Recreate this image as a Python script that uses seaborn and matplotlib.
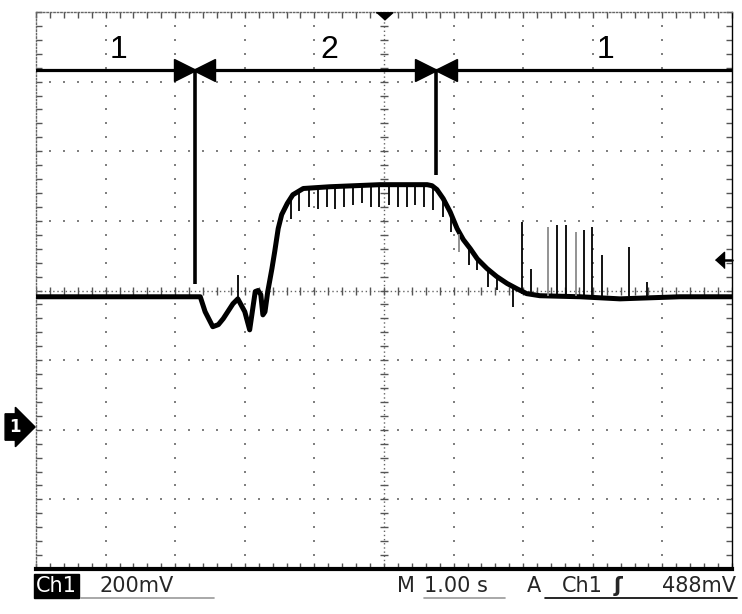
import numpy as np
import pandas as pd
import matplotlib
matplotlib.use("Agg")
import matplotlib.pyplot as plt
import matplotlib.transforms as mtrans
from matplotlib.lines import Line2D
import seaborn as sns

# Scope capture
# time in s (1.00 s/div, trigger at 0), level in mV above the Ch1 ground (200 mV/div)
trace_t = [-5.00, -2.70, -2.64, -2.57, -2.46, -2.38, -2.31, -2.17, -2.10, -2.00, -1.93,
           -1.85, -1.81, -1.77, -1.74, -1.71, -1.67, -1.61, -1.57, -1.52, -1.47,
           -1.39, -1.31, -1.16, -0.78, -0.06, 0.62, 0.69, 0.76, 0.85, 0.95,
           1.05, 1.14, 1.24, 1.34, 1.48, 1.62, 1.77, 1.91, 2.05, 2.24,
           2.82, 3.39, 4.25, 5.00]
trace_mv = [382, 382, 382, 339, 296, 302, 319, 362, 376, 339, 287,
            397, 400, 388, 330, 339, 397, 463, 512, 578, 618,
            650, 675, 693, 698, 704, 704, 701, 690, 664, 626,
            578, 546, 520, 491, 463, 440, 420, 405, 391, 385,
            382, 376, 382, 382]

# glitches on top of the trace
spike_t = [-1.34, -1.22, -1.08, -0.95, -0.82, -0.70, -0.57, -0.45, -0.32, -0.19,
           -0.07, 0.07, 0.20, 0.33, 0.45, 0.57, 0.70, 0.85, 0.96, 1.08,
           1.22, 1.34, 1.49, 1.62, 1.85,
           -2.10, 1.98, 2.11, 2.36, 2.49, 2.61, 2.76, 2.87, 2.99, 3.13, 3.52, 3.78]
spike_base = [672, 687, 698, 698, 698, 698, 698, 698, 698, 698,
              698, 698, 698, 698, 698, 698, 695, 664, 621, 563,
              520, 491, 460, 440, 411,
              376, 390, 385, 385, 385, 385, 385, 385, 385, 385, 385, 385]
spike_tip = [604, 627, 641, 635, 641, 635, 641, 647, 650, 641,
             641, 647, 641, 641, 647, 641, 632, 612, 569, 512,
             474, 460, 411, 402, 354,
             445, 598, 463, 581, 589, 589, 569, 575, 581, 503, 526, 425]
spike_faint = [2.36, 2.76, 1.08]

# cursors
cursor_t = [-2.72, 0.75]
cursor_bottom = [420, 733]
cursor_level = 1032
region_t = [-3.82, -0.78, 3.18]
region_names = ["1", "2", "1"]
region_level = 1092
trig_level = 488

W, H = 742, 614
sns.set_style("white")
plt.rcParams['font.family'] = ['DejaVu Sans']

fig = plt.figure(figsize=(W / 100, H / 100), dpi=100)
ax = fig.add_axes([36 / W, 1 - 569 / H, 696 / W, 557 / H])
ax.set_xlim(-5, 5)
ax.set_ylim(-400, 1200)

# graticule: dotted division lines, dots every 1/5 division
minor_t = np.arange(-5, 5.001, 0.2)
minor_v = np.arange(-400, 1200.1, 40)
for k in range(-4, 5):
    if k != 0:
        ax.scatter(np.full(len(minor_v), k), minor_v, s=3, marker='s',
                   color='#808080', lw=0, zorder=1)
for v in range(-200, 1200, 200):
    if v != 400:
        ax.scatter(minor_t, np.full(len(minor_t), v), s=3, marker='s',
                   color='#808080', lw=0, zorder=1)
# center cross with tick marks
ax.plot([0, 0], [-400, 1200], ls=(0, (1, 2)), color='#666666', lw=1, zorder=1)
ax.plot([-5, 5], [400, 400], ls=(0, (1, 2)), color='#666666', lw=1, zorder=1)
ax.scatter(np.zeros(len(minor_v)), minor_v, marker='_', s=30, color='#555555', lw=1, zorder=1)
ax.scatter(minor_t, np.full(len(minor_t), 400), marker='|', s=30, color='#555555', lw=1, zorder=1)

# frame
ax.set_xticks(minor_t)
ax.set_yticks(minor_v)
ax.tick_params(direction='in', length=4, width=1, color='#555555',
               top=True, right=True, bottom=True, left=True,
               labelbottom=False, labelleft=False)
for side in ['top', 'left']:
    ax.spines[side].set_linestyle((0, (1, 1.5)))
    ax.spines[side].set_color('#666666')
    ax.spines[side].set_linewidth(1)
ax.spines['right'].set_color('black')
ax.spines['right'].set_linewidth(1)
ax.spines['bottom'].set_color('black')
ax.spines['bottom'].set_linewidth(3)

# waveform
df = pd.DataFrame({'t': trace_t, 'mv': trace_mv})
sns.lineplot(data=df, x='t', y='mv', color='black', lw=3.6, sort=False,
             estimator=None, ax=ax, zorder=3)
spike_col = ['#8a8a8a' if t in spike_faint else 'black' for t in spike_t]
ax.vlines(spike_t, spike_base, spike_tip, colors=spike_col, lw=1.3, zorder=3)
ax.set_xlabel('')
ax.set_ylabel('')

# cursors with arrow heads
ax.axhline(cursor_level, color='black', lw=2.3, zorder=4)
ax.vlines(cursor_t, cursor_bottom, cursor_level, colors='black', lw=2.6, zorder=4)
left_of = mtrans.offset_copy(ax.transData, fig=fig, x=-7, y=0, units='points')
right_of = mtrans.offset_copy(ax.transData, fig=fig, x=7, y=0, units='points')
for t in cursor_t:
    ax.plot([t], [cursor_level], marker='>', ms=16, color='black', transform=left_of, zorder=5)
    ax.plot([t], [cursor_level], marker='<', ms=16, color='black', transform=right_of, zorder=5)
for t, s in zip(region_t, region_names):
    ax.text(t, region_level, s, fontsize=23, ha='center', va='center', color='black',
            family=['Liberation Sans', 'DejaVu Sans'])

# trigger position and trigger level markers
down_of = mtrans.offset_copy(ax.transData, fig=fig, x=0, y=-3, units='points')
ax.plot([0], [1200], marker=[(-1, 0.45), (1, 0.45), (0, -0.45)], ms=12,
        color='black', transform=down_of, clip_on=False, zorder=6)
ax.plot([4.80, 5.0], [trig_level, trig_level], color='black', lw=1.8, clip_on=False, zorder=6)
ax.plot([4.76], [trig_level], marker=[(0, 0), (1, 0.9), (1, -0.9)], ms=13,
        color='black', clip_on=False, zorder=6)

# ground marker for channel 1
fig.text(15 / W, 1 - 427 / H, '1', color='white', fontsize=12, fontweight='bold',
         ha='center', va='center',
         bbox=dict(boxstyle='rarrow,pad=0.25', fc='black', ec='black'))

# status line
ty = 1 - 586 / H
fs = 15
fig.text(36 / W, ty, 'Ch1', color='white', fontsize=fs, ha='left', va='center',
         bbox=dict(boxstyle='square,pad=0.08', fc='black', ec='black'))
fig.text(100 / W, ty, '200mV', fontsize=fs, ha='left', va='center')
fig.text(397 / W, ty, 'M', fontsize=fs, ha='left', va='center')
fig.text(424 / W, ty, '1.00 s', fontsize=fs, ha='left', va='center')
fig.text(527 / W, ty, 'A', fontsize=fs, ha='left', va='center')
fig.text(562 / W, ty, 'Ch1', fontsize=fs, ha='left', va='center')
fig.text(614 / W, ty, 'ʃ', fontsize=fs, fontweight='bold', ha='left', va='center')
fig.text(736 / W, ty, '488mV', fontsize=fs, ha='right', va='center')
uy = 1 - 598 / H
fig.add_artist(Line2D([81 / W, 214 / W], [uy, uy], color='#999999', lw=1.2))
fig.add_artist(Line2D([424 / W, 505 / W], [uy, uy], color='#999999', lw=1.2))
fig.add_artist(Line2D([545 / W, 737 / W], [uy, uy], color='black', lw=1.2))

fig.savefig('out.png', dpi=100, facecolor='white')
